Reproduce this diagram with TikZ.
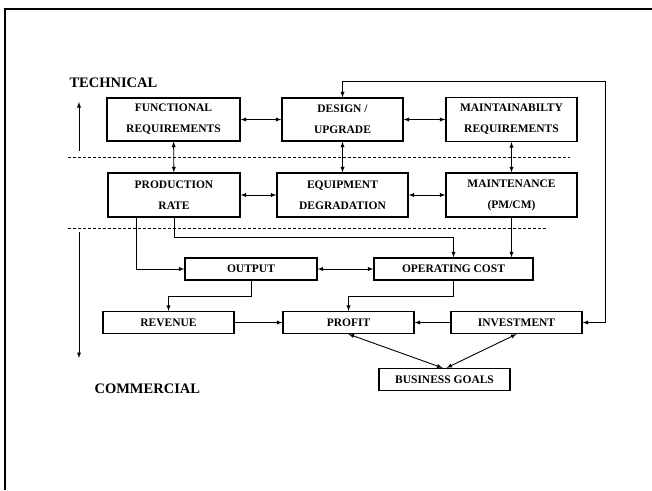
\documentclass[tikz,border=0pt]{standalone}
\usepackage{fontspec}
\setmainfont{Liberation Serif}
\usetikzlibrary{arrows,calc}
\tikzstyle{block}=[draw,line width=1.3pt,rectangle,align=center,inner sep=1pt,font=\bfseries\fontsize{11.5}{21}\selectfont]
\tikzstyle{link} = [draw,line width=0.9pt,>=latex]
\tikzstyle{divider} = [draw,thin,densely dashed]
\tikzstyle{side} = [font=\bfseries\fontsize{14.5}{16}\selectfont,anchor=west]

\begin{document}
\begin{tikzpicture}[x=1pt,y=-1pt]
    \useasboundingbox (0,0) rectangle (652,490);
    % frame of the slide
    \draw[line width=2.5pt] (5,490) -- (5,9) -- (652,9);

    % First we draw the boxes
    \foreach \pos/\name/\w/\h/\txt in {{(173.5,119.5)/fr/133/43/{FUNCTIONAL\\REQUIREMENTS}},
        {(342.5,119.5)/du/121/43/{DESIGN /\\UPGRADE}},
        {(511.5,119.5)/mr/131/44/{MAINTAINABILTY\\REQUIREMENTS}},
        {(174,195)/pr/132/44/{PRODUCTION\\RATE}},
        {(342.5,195)/ed/131/44/{EQUIPMENT\\DEGRADATION}},
        {(511.5,195)/mn/131/44/{MAINTENANCE\\(PM/CM)}}}
        \node[block,minimum width=\w pt,minimum height=\h pt] (\name) at \pos {\txt};

    \foreach \pos/\name/\w/\txt in {{(251,269)/out/132/OUTPUT},
        {(453.5,269)/oc/159/OPERATING COST},
        {(168.5,322.5)/rev/131/REVENUE},
        {(348.5,322.5)/pro/131/PROFIT},
        {(516.5,322.5)/inv/131/INVESTMENT},
        {(444.5,379.5)/bg/131/BUSINESS GOALS}}
        \node[block,minimum width=\w pt,minimum height=22pt] (\name) at \pos {\txt};

    % dividing lines
    \path[divider] (68,157) -- (570,157);
    \path[divider] (68,228) -- (548,228);

    % side labels
    \node[side] (tech) at (66,83) {TECHNICAL};
    \node[side] (comm) at (91,389) {COMMERCIAL};
    \coordinate (techlow) at (79,151);
    \coordinate (techtop) at (79,102);
    \coordinate (commtop) at (79,232);
    \coordinate (commlow) at (79,358);
    \path[link,->] (techlow) -- (techtop);
    \path[link,->] (commtop) -- (commlow);

    % Connect boxes
    \foreach \source/\dest in {fr/du, du/mr, fr/pr, du/ed, mr/mn, pr/ed, ed/mn, out/oc}
        \path[link,<->] (\source) -- (\dest);
    \foreach \source/\dest in {rev/pro, inv/pro}
        \path[link,->] (\source) -- (\dest);

    \path[link,->] ([xshift=-38pt]pr.south) |- (out.west);
    \path[link,->] (pr.south) -- ++(0,20) -| (oc.north);
    \path[link,->] (mn.south) -- (mn.south |- oc.north);
    \path[link,->] (out.south) -- ++(0,16) -| (rev.north);
    \path[link,->] (oc.south) -- ++(0,16) -| (pro.north);

    % feedback to design
    \coordinate (fb) at (605,81);
    \path[link,<->] (inv.east) -| (fb) -| (du.north);

    % business goals
    \path[link,<->] (pro.south) -- ([xshift=-2pt]bg.north);
    \path[link,<->] (inv.south) -- ([xshift=2pt]bg.north);
\end{tikzpicture}
\end{document}
